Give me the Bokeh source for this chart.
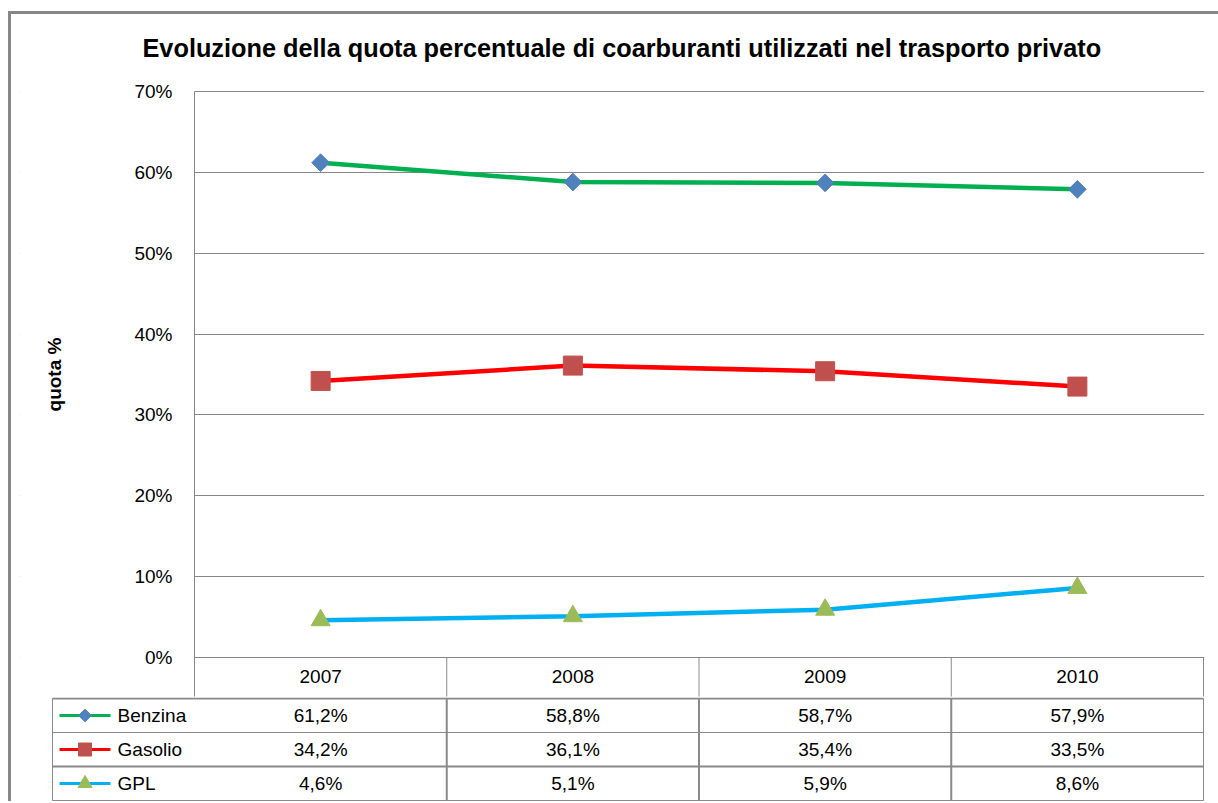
import math
from bokeh.plotting import figure
from bokeh.layouts import column
from bokeh.models import Range1d, FixedTicker, PrintfTickFormatter, BoxAnnotation
from bokeh.embed import file_html
from bokeh.resources import INLINE
from bokeh.core.properties import value

# ---------------- data ----------------
years = ["2007", "2008", "2009", "2010"]
series_names = ["Benzina", "Gasolio", "GPL"]
benzina = [61.2, 58.8, 58.7, 57.9]
gasolio = [34.2, 36.1, 35.4, 33.5]
gpl = [4.6, 5.1, 5.9, 8.6]
y_ticks = [0, 10, 20, 30, 40, 50, 60, 70]

chart_title = "Evoluzione della quota percentuale di coarburanti utilizzati nel trasporto privato"
y_label = "quota %"

# ---------------- styles ----------------
FONT = "Liberation Sans"
GRID = "#868686"
TBL = "#898989"
series_values = [benzina, gasolio, gpl]
series_style = [
    dict(line="#00B050", marker="square", angle=math.pi / 4, fill="#4F81BD", size=12.5, lsize=9),
    dict(line="#FF0000", marker="square", angle=0, fill="#C0504D", size=19, lsize=13),
    dict(line="#00B0F0", marker="triangle", angle=0, fill="#9BBB59", size=19, lsize=14),
]

W = 1207
H1 = 683
H2 = 104
CAT = 252.25          # px per category
FRAME_EXTRA = 174     # frame pixels left of first category
LEGEND_COL = 142      # legend column width in table
PXU = 565 / 70        # px per percentage point
ROW = 34.33           # px per table row
TOP_PAD = 14          # px above the 70% line inside the frame
HEAD = 39             # px of the header row (years)

xc = [i + 0.5 for i in range(len(years))]
x0 = -FRAME_EXTRA / CAT
x1 = 4 + 1 / CAT
y_lo = -HEAD / PXU
y_hi = 70 + TOP_PAD / PXU

# ---------------- chart (with header row of the table) ----------------
p = figure(x_range=Range1d(x0, x1), y_range=Range1d(y_lo, y_hi),
           width=W, height=H1, output_backend="svg", toolbar_location=None,
           min_border_left=9, min_border_right=14, min_border_top=63,
           min_border_bottom=1)
p.outline_line_color = None
p.background_fill_color = "white"
p.border_fill_color = "white"
p.xaxis.visible = False
p.xgrid.grid_line_color = None
p.ygrid.grid_line_color = GRID
p.ygrid.grid_line_width = 1
p.yaxis.fixed_location = 0
p.yaxis.bounds = (0, 70)
p.yaxis.ticker = FixedTicker(ticks=y_ticks)
p.yaxis.formatter = PrintfTickFormatter(format="%d%%")
p.yaxis.major_tick_line_color = None
p.yaxis.minor_tick_line_color = None
p.yaxis.axis_line_color = GRID
p.yaxis.major_label_standoff = 16
p.yaxis.major_label_text_font = FONT
p.yaxis.major_label_text_font_size = "19px"
p.yaxis.major_label_text_color = "black"
p.yaxis.axis_label = y_label
p.yaxis.axis_label_text_font = FONT
p.yaxis.axis_label_text_font_size = "19px"
p.yaxis.axis_label_text_font_style = "bold"
p.yaxis.axis_label_text_color = "black"
p.yaxis.axis_label_standoff = 66

# hide the grid left of the plot area
p.add_layout(BoxAnnotation(right=0, fill_color="white", fill_alpha=1,
                           line_color=None, level="underlay"))

p.title.text = chart_title
p.title.align = "left"
p.title.offset = 122
p.title.text_font = FONT
p.title.text_font_size = "25.3px"
p.title.text_font_style = "bold"
p.title.text_color = "black"
p.title.standoff = 32

for vals, st in zip(series_values, series_style):
    p.line(xc, vals, line_color=st["line"], line_width=4.5)
    p.scatter(xc, vals, marker=st["marker"], size=st["size"], angle=st["angle"],
              fill_color=st["fill"], line_color=st["fill"])

# header row (years) under the plot area
p.segment(x0=[0, 1, 2, 3, 4], y0=[y_lo - 1] * 5, x1=[0, 1, 2, 3, 4], y1=[0] * 5,
          line_color=TBL, line_width=1)
p.text(x=xc, y=[y_lo / 2] * len(years), text=years,
       text_align="center", text_baseline="middle", text_font=value(FONT),
       text_font_size="19px", text_color="black")

# ---------------- data rows of the table ----------------
t = figure(x_range=Range1d(x0, x1), y_range=Range1d(3 + 1 / ROW, -1 / ROW),
           width=W, height=H2, output_backend="svg", toolbar_location=None,
           x_axis_type=None, y_axis_type=None,
           min_border_left=9, min_border_right=14,
           min_border_top=0, min_border_bottom=0)
t.outline_line_color = None
t.xgrid.grid_line_color = None
t.ygrid.grid_line_color = None
t.border_fill_color = "white"

xl = -LEGEND_COL / CAT
t.segment(x0=[xl, 4], y0=[0, 0], x1=[xl, 4], y1=[3, 3], line_color=TBL, line_width=1)
t.segment(x0=[1, 2, 3], y0=[0] * 3, x1=[1, 2, 3], y1=[3] * 3, line_color=TBL, line_width=2)
t.segment(x0=[xl, xl], y0=[0, 2], x1=[4, 4], y1=[0, 2], line_color=TBL, line_width=2)
t.segment(x0=[xl, xl], y0=[1, 3], x1=[4, 4], y1=[1, 3], line_color=TBL, line_width=1)

for r, (name, vals, st) in enumerate(zip(series_names, series_values, series_style)):
    yc = r + 0.5
    labels = [("%.1f%%" % v).replace(".", ",") for v in vals]
    t.text(x=xc, y=[yc] * len(vals), text=labels,
           text_align="center", text_baseline="middle", text_font=value(FONT),
           text_font_size="19px", text_color="black")
    t.segment(x0=[-0.535], y0=[yc], x1=[-0.333], y1=[yc], line_color=st["line"], line_width=3)
    t.scatter([-0.434], [yc], marker=st["marker"], size=st["lsize"], angle=st["angle"],
              fill_color=st["fill"], line_color=st["fill"])
    t.text(x=[-0.305], y=[yc], text=[name], text_align="left", text_baseline="middle",
           text_font=value(FONT), text_font_size="19px", text_color="black")

layout = column(p, t, spacing=0, margin=(11, 0, 0, 8),
                styles={"border-left": "3px solid #878787", "border-top": "3px solid #878787"})

open("out.html", "w").write(file_html(layout, INLINE))
